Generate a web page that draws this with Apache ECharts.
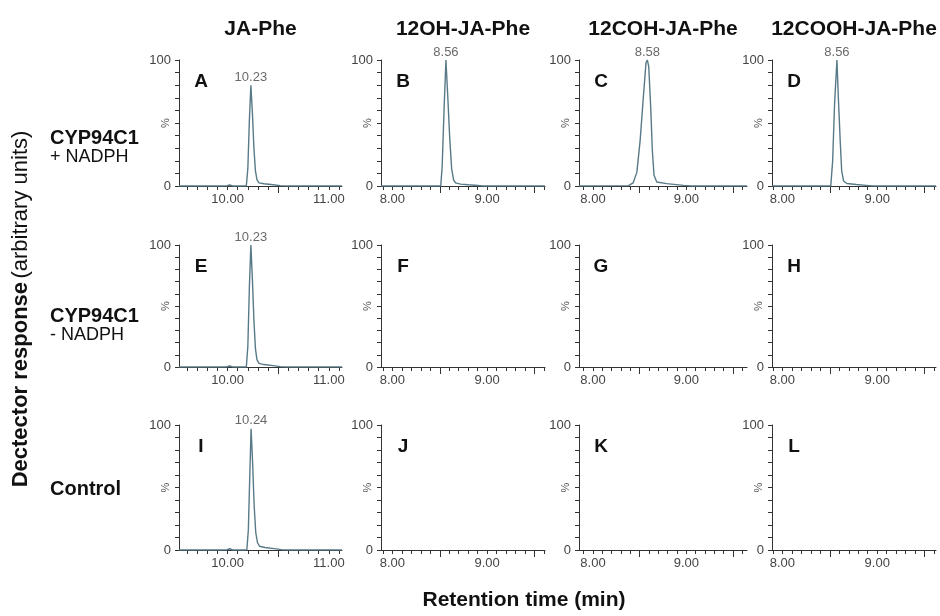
<!DOCTYPE html>
<html>
<head>
<meta charset="utf-8">
<script src="https://cdn.jsdelivr.net/npm/echarts@6/dist/echarts.min.js"></script>
<style>html,body{margin:0;padding:0;background:#fff;}#c{width:940px;height:616px;}</style>
</head>
<body>
<div id="c"></div>
<script>
// ---- data ----
const columnTitles = ['JA-Phe', '12OH-JA-Phe', '12COH-JA-Phe', '12COOH-JA-Phe'];
const rowTitles = [['CYP94C1', '+ NADPH'], ['CYP94C1', '- NADPH'], ['Control', '']];
const panelLetters = ['A','B','C','D','E','F','G','H','I','J','K','L'];
const yAxisName = '%';
const xMin = [9.52, 7.88, 7.85, 7.89];
const xMax = [11.13, 9.61, 9.65, 9.62];
const xLabelValues = [[10, 11], [8, 9], [8, 9], [8, 9]];
const xTicks1 = [9.6,9.7,9.8,9.9,10.0,10.1,10.2,10.3,10.4,10.5,10.6,10.7,10.8,10.9,11.0,11.1];
const xTicks2 = [7.9,8.0,8.1,8.2,8.3,8.4,8.5,8.6,8.7,8.8,8.9,9.0,9.1,9.2,9.3,9.4,9.5,9.6];
const xLongTicks = [[10.5], [8.5, 9.5], [8.5, 9.5], [8.5, 9.5]];
const yLabelValues = [0, 100];

const peakA = [[9.52,0],[9.99,0],[10.02,0.8],[10.05,0],[10.185,0],[10.20,14],[10.215,52],[10.23,80],[10.245,58],[10.26,30],[10.275,12],[10.29,5],[10.31,2.5],[10.36,1.8],[10.45,1],[10.52,0.3],[10.6,0],[11.13,0]];
const peakB = [[7.88,0],[8.51,0],[8.525,15],[8.545,60],[8.565,100],[8.585,70],[8.605,38],[8.625,14],[8.645,5],[8.665,2.5],[8.72,1.5],[8.80,1],[8.90,0.4],[8.95,0],[9.61,0]];
const peakC = [[7.85,0],[8.38,0.3],[8.43,2.4],[8.47,11],[8.505,36],[8.54,71],[8.568,98],[8.582,100],[8.597,95],[8.618,63],[8.636,28],[8.654,8.5],[8.683,3.2],[8.79,1.9],[8.97,0.5],[9.05,0],[9.65,0]];
const peakD = [[7.89,0],[8.51,0],[8.53,20],[8.55,65],[8.575,100],[8.59,70],[8.61,35],[8.625,12],[8.645,4],[8.68,2],[8.78,1.2],[8.88,0.5],[8.95,0],[9.62,0]];
const peakE = [[9.52,0],[9.99,0],[10.02,0.8],[10.05,0],[10.185,0],[10.20,17],[10.215,65],[10.23,100],[10.245,72],[10.26,38],[10.275,15],[10.29,6],[10.31,3],[10.36,2],[10.45,1.1],[10.52,0.3],[10.6,0],[11.13,0]];
const peakI = [[9.52,0],[9.99,0],[10.02,1],[10.05,0],[10.19,0],[10.205,16],[10.22,62],[10.232,97],[10.247,70],[10.262,36],[10.278,14],[10.295,6],[10.315,3],[10.37,2],[10.46,1.1],[10.53,0.3],[10.6,0],[11.13,0]];
// panel index -> [trace, peak label text, peak point]
const traces = {
  0: [peakA, '10.23', [10.23, 80]],
  1: [peakB, '8.56', [8.565, 100]],
  2: [peakC, '8.58', [8.582, 100]],
  3: [peakD, '8.56', [8.575, 100]],
  4: [peakE, '10.23', [10.23, 100]],
  8: [peakI, '10.24', [10.232, 97]]
};

// ---- layout ----
const FONT = 'Liberation Sans, Arial, sans-serif';
const gridLeft = [179, 381, 579, 772];
const gridWidth = [163, 164, 168, 164];
const gridTop = [60, 245, 425];
const gridHeight = [126, 122, 125];
const axisColor = '#333';
const labelColor = '#444';
const traceColor = '#587a88';

const grids = [], xAxes = [], yAxes = [], series = [], graphics = [];
for (let p = 0; p < 12; p++) {
  const r = Math.floor(p / 4), c = p % 4;
  grids.push({left: gridLeft[c], top: gridTop[r], width: gridWidth[c], height: gridHeight[r]});
  xAxes.push({
    type: 'value', gridIndex: p, min: xMin[c], max: xMax[c], position: 'bottom',
    axisLine: {show: true, lineStyle: {color: axisColor, width: 1}},
    axisTick: {show: true, customValues: c === 0 ? xTicks1 : xTicks2, length: 4, lineStyle: {color: axisColor}},
    axisLabel: {customValues: xLabelValues[c], formatter: v => Number(v).toFixed(2), fontSize: 13, color: labelColor, margin: 7, fontFamily: FONT},
    splitLine: {show: false}
  });
  xAxes.push({
    type: 'value', gridIndex: p, min: xMin[c], max: xMax[c], position: 'bottom',
    axisLine: {show: false},
    axisTick: {show: true, customValues: xLongTicks[c], length: 7, lineStyle: {color: axisColor}},
    axisLabel: {show: false},
    splitLine: {show: false}
  });
  yAxes.push({
    type: 'value', gridIndex: p, min: 0, max: 100, interval: 10,
    axisLine: {show: true, lineStyle: {color: axisColor, width: 1}},
    axisTick: {show: true, length: 4, lineStyle: {color: axisColor}},
    axisLabel: {customValues: yLabelValues, fontSize: 13, color: labelColor, margin: 8, fontFamily: FONT},
    splitLine: {show: false}
  });
  if (traces[p]) {
    const [data, txt, pt] = traces[p];
    series.push({
      type: 'line', xAxisIndex: 2 * p, yAxisIndex: p, data: data,
      symbol: 'none', smooth: false, lineStyle: {color: traceColor, width: 1.4}, silent: true
    });
    series.push({
      type: 'scatter', xAxisIndex: 2 * p, yAxisIndex: p, data: [pt],
      symbolSize: 1, itemStyle: {color: 'rgba(0,0,0,0)'}, silent: true,
      label: {show: true, position: 'top', distance: 1, formatter: () => txt, fontSize: 13, color: labelColor, fontFamily: FONT}
    });
  }
  graphics.push({
    type: 'text', x: gridLeft[c] + 22, y: gridTop[r] + 22,
    style: {text: panelLetters[p], font: 'bold 19px ' + FONT, fill: '#111', align: 'center', verticalAlign: 'middle'}
  });
  graphics.push({
    type: 'text', x: gridLeft[c] - 13, y: gridTop[r] + gridHeight[r] / 2, rotation: Math.PI / 2,
    style: {text: yAxisName, font: '11px ' + FONT, fill: '#555', align: 'center', verticalAlign: 'middle'}
  });
}

columnTitles.forEach((t, c) => {
  graphics.push({type: 'text', x: gridLeft[c] + gridWidth[c] / 2, y: 29,
    style: {text: t, font: 'bold 21px ' + FONT, fill: '#111', align: 'center', verticalAlign: 'middle'}});
});
const rowY = [[138, 157], [316, 335], [489, 0]];
rowTitles.forEach((rt, r) => {
  graphics.push({type: 'text', x: 50, y: rowY[r][0],
    style: {text: rt[0], font: 'bold 20px ' + FONT, fill: '#111', align: 'left', verticalAlign: 'middle'}});
  if (rt[1]) graphics.push({type: 'text', x: 50, y: rowY[r][1],
    style: {text: rt[1], font: '18px ' + FONT, fill: '#111', align: 'left', verticalAlign: 'middle'}});
});
graphics.push({type: 'text', x: 21, y: 309, rotation: Math.PI / 2,
  style: {text: '{b|Dectector response} {n|(arbitrary units)}', align: 'center', verticalAlign: 'middle',
    rich: {b: {fontSize: 22, fontWeight: 'bold', fontFamily: FONT, fill: '#111'}, n: {fontSize: 22, fontFamily: FONT, fill: '#111'}}}});
graphics.push({type: 'text', x: 524, y: 600,
  style: {text: 'Retention time (min)', font: 'bold 21px ' + FONT, fill: '#111', align: 'center', verticalAlign: 'middle'}});

const chart = echarts.init(document.getElementById('c'), null, {renderer: 'canvas'});
chart.setOption({
  animation: false,
  backgroundColor: '#fff',
  grid: grids, xAxis: xAxes, yAxis: yAxes, series: series, graphic: graphics
});
</script>
</body>
</html>
